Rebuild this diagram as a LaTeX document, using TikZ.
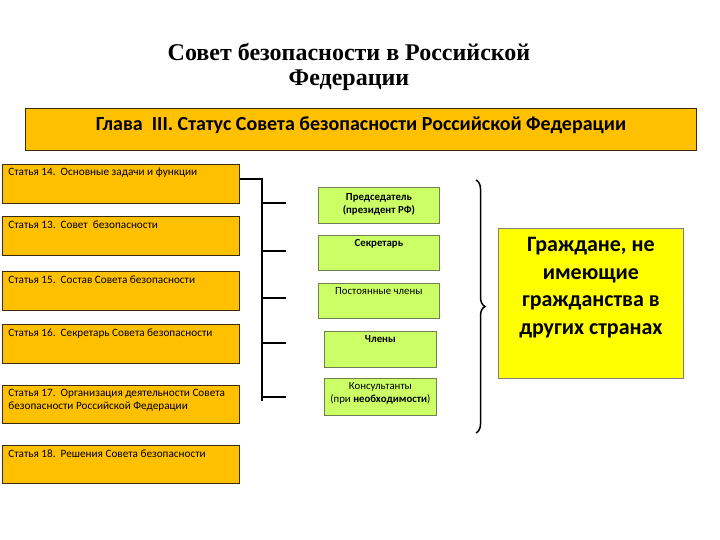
\documentclass[tikz,border=0pt]{standalone}
\usepackage{fontspec}
\setmainfont{Carlito}
\newfontfamily\titlefont{Liberation Serif}
\usetikzlibrary{decorations.pathreplacing}
\definecolor{orangebox}{HTML}{FFC000}
\definecolor{greenbox}{HTML}{CCFF66}
\definecolor{yellowbox}{HTML}{FFFF00}
\definecolor{darkedge}{HTML}{3A2A10}
\definecolor{greenedge}{HTML}{6F7F50}
\tikzset{
  lbox/.style={draw=darkedge, line width=0.8pt, fill=orangebox, anchor=north west, inner xsep=6pt, inner ysep=4pt, font=\fontsize{11.2}{13}\selectfont},
  gbox/.style={draw=greenedge, line width=0.8pt, fill=greenbox, anchor=north west, inner sep=0pt},
  gtext/.style={font=\fontsize{10.8}{13}\selectfont, align=center, anchor=north},
  conn/.style={line width=2.2pt, black},
}
\begin{document}
\begin{tikzpicture}[x=1pt,y=-1pt]
\useasboundingbox (0,0) rectangle (720,540);
% title
\node[font=\titlefont\bfseries\fontsize{24}{25}\selectfont, align=center] (title) at (349,67) {Совет безопасности в Российской\\Федерации};
% header
\node[draw=darkedge, line width=0.8pt, fill=orangebox, anchor=north west, minimum width=671pt, minimum height=42pt, inner sep=0pt] (head) at (25,108) {};
\node[font=\bfseries\fontsize{20}{22}\selectfont] (headtxt) at (361,125) {Глава\ \ III. Статус Совета безопасности Российской Федерации};
% left boxes
\node[lbox] (a1) at (2,164) {\parbox[t][31pt][t]{225pt}{Статья 14.\ \ Основные задачи и функции}};
\node[lbox] (a2) at (2,216) {\parbox[t][31pt][t]{225pt}{Статья 13.\ \ Совет\ \ безопасности}};
\node[lbox] (a3) at (2,271) {\parbox[t][31pt][t]{225pt}{Статья 15.\ \ Состав Совета безопасности}};
\node[lbox] (a4) at (2,324) {\parbox[t][31pt][t]{225pt}{Статья 16.\ \ Секретарь Совета безопасности}};
\node[lbox] (a5) at (2,385) {\parbox[t][30pt][t]{225pt}{Статья 17.\ \ Организация деятельности Совета\\безопасности Российской Федерации}};
\node[lbox] (a6) at (2,445) {\parbox[t][30pt][t]{225pt}{Статья 18.\ \ Решения Совета безопасности}};
% green boxes
\node[gbox, minimum width=121pt, minimum height=36pt] (g1) at (318,187) {};
\node[gtext, font=\bfseries\fontsize{10.8}{13}\selectfont] (g1t) at (g1.north) [yshift=-3pt] {Председатель\\(президент РФ)};
\node[gbox, minimum width=121pt, minimum height=35pt] (g2) at (318,235) {};
\node[gtext, font=\bfseries\fontsize{10.8}{13}\selectfont] (g2t) at (g2.north) [yshift=-1pt] {Секретарь};
\node[gbox, minimum width=121pt, minimum height=35pt] (g3) at (318,283) {};
\node[gtext] (g3t) at (g3.north) [yshift=-1pt] {Постоянные члены};
\node[gbox, minimum width=112pt, minimum height=36pt] (g4) at (324,331) {};
\node[gtext, font=\bfseries\fontsize{10.8}{13}\selectfont] (g4t) at (g4.north) [yshift=-1pt] {Члены};
\node[gbox, minimum width=112pt, minimum height=37pt] (g5) at (324,378) {};
\node[gtext] (g5t) at (g5.north) [yshift=-1pt] {Консультанты\\(при \textbf{необходимости})};
% connectors
\coordinate (j0) at (262,179);
\coordinate (jb) at (262,401);
\coordinate (t1) at (286,203);
\coordinate (t2) at (286,251);
\coordinate (t3) at (286,298);
\coordinate (t4) at (286,343);
\coordinate (t5) at (286,397);
\draw[conn] (a1.east |- j0) -- (j0) -- (jb);
\draw[conn] (t1 -| j0) -- (t1);
\draw[conn] (t2 -| j0) -- (t2);
\draw[conn, line width=1.4pt] (t3 -| j0) -- (t3);
\draw[conn] (t4 -| j0) -- (t4);
\draw[conn] (t5 -| j0) -- (t5);
% brace
\coordinate (bt) at (476,180);
\coordinate (bb) at (476,433);
\draw[line width=1.5pt, decorate, decoration={brace, amplitude=9pt}] (bt) -- (bb);
% yellow box
\node[draw=gray, line width=0.8pt, fill=yellowbox, anchor=north west, minimum width=185pt, minimum height=150pt, inner sep=0pt] (yb) at (498,228) {};
\node[font=\bfseries\fontsize{22}{27.5}\selectfont, align=center, anchor=north] (ybt) at (yb.north) [yshift=-6pt] {Граждане, не\\имеющие\\гражданства в\\других странах};
\end{tikzpicture}
\end{document}
